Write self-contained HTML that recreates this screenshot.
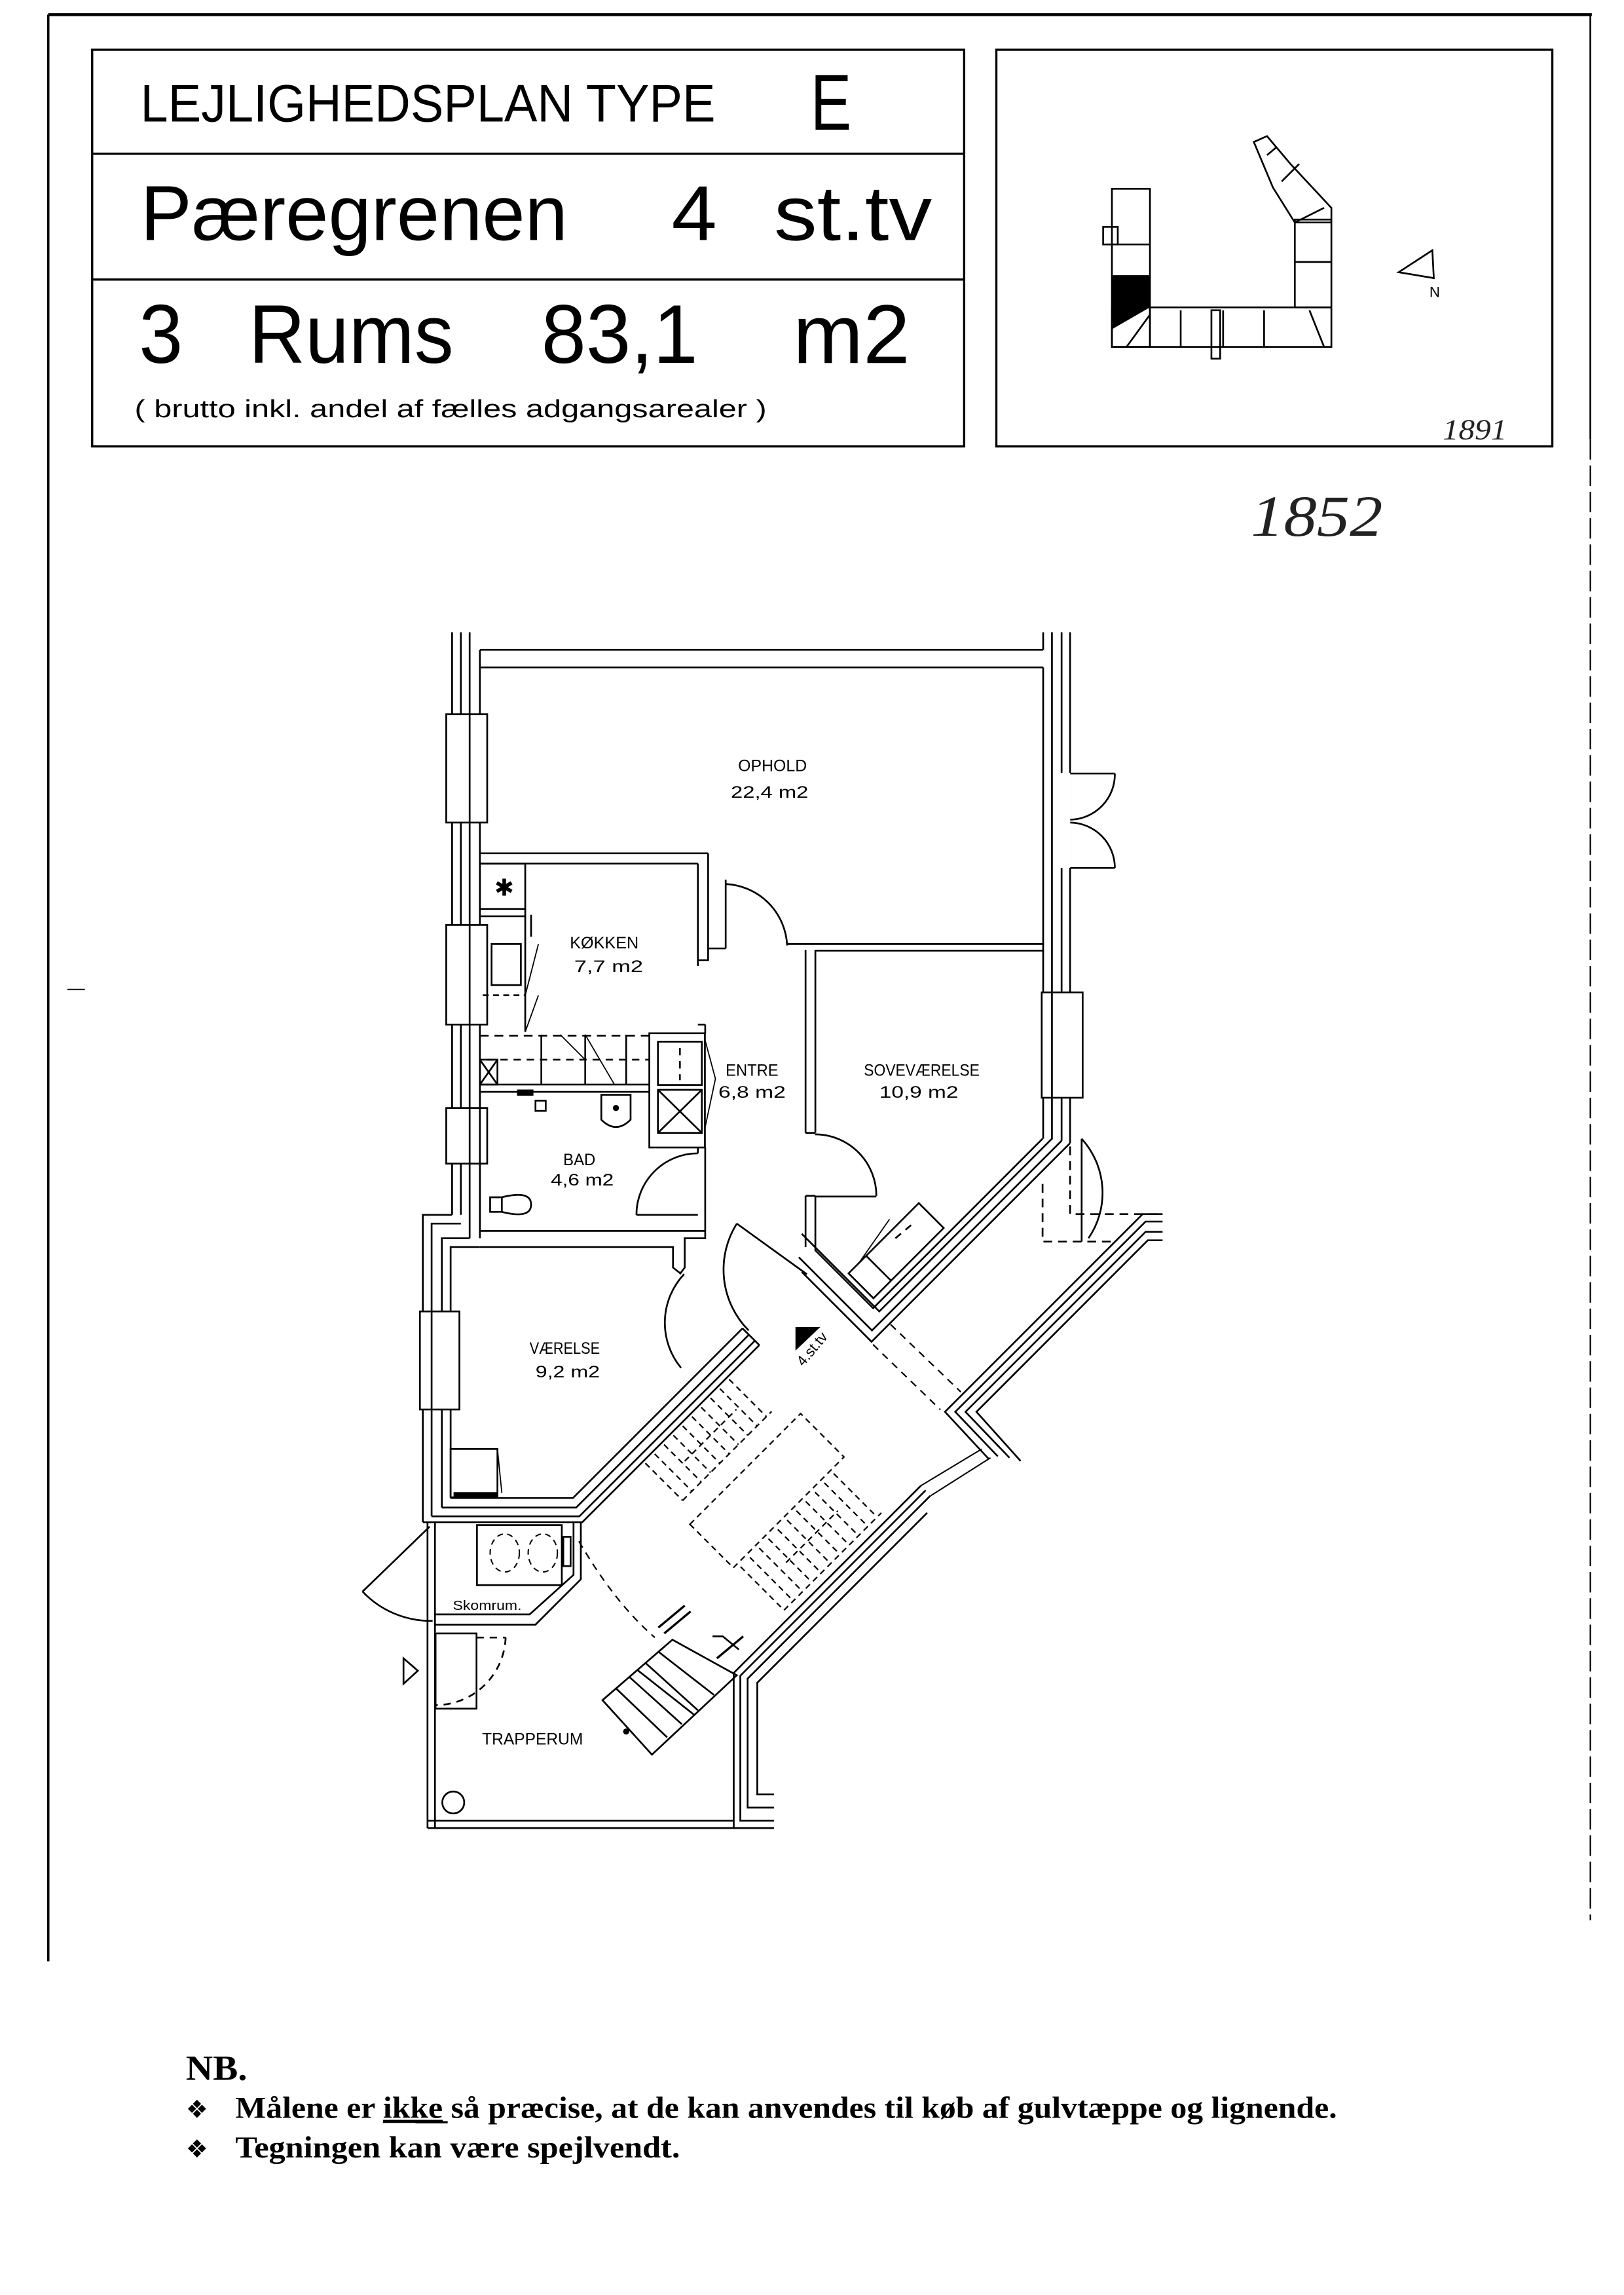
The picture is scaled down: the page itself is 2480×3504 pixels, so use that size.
<!DOCTYPE html>
<html><head><meta charset="utf-8"><style>
html,body{margin:0;padding:0;background:#fff;}
svg{display:block;}
</style></head><body>
<svg width="2480" height="3504" viewBox="0 0 1110 1568" preserveAspectRatio="none" xmlns="http://www.w3.org/2000/svg">
<rect width="1110" height="1568" fill="#fff"/>
<!-- page border -->
<g stroke="#000" fill="none">
<line x1="33" y1="10" x2="1088" y2="10" stroke-width="2"/>
<line x1="33" y1="10" x2="33" y2="1340" stroke-width="1.6"/>
<line x1="1087" y1="10" x2="1087" y2="300" stroke-width="1.2"/>
<line x1="1087" y1="300" x2="1087" y2="1312" stroke-width="1" stroke-dasharray="14 4"/>
<line x1="46" y1="676" x2="58" y2="676" stroke-width="0.8"/>
</g>
<!-- title block -->
<g stroke="#000" fill="none" stroke-width="1.5">
<rect x="63" y="34" width="596" height="271"/>
<line x1="63" y1="105" x2="659" y2="105"/>
<line x1="63" y1="191" x2="659" y2="191"/>
<rect x="681" y="34" width="380" height="271"/>
</g>
<g font-family="Liberation Sans, sans-serif" fill="#000">
<text x="96" y="83" font-size="36" textLength="393" lengthAdjust="spacingAndGlyphs">LEJLIGHEDSPLAN TYPE</text>
<text x="554" y="88.5" font-size="54" textLength="28" lengthAdjust="spacingAndGlyphs">E</text>
<text x="96" y="164" font-size="53" textLength="292" lengthAdjust="spacingAndGlyphs">Pæregrenen</text>
<text x="459" y="164" font-size="53" textLength="31" lengthAdjust="spacingAndGlyphs">4</text>
<text x="529" y="164" font-size="53" textLength="108" lengthAdjust="spacingAndGlyphs">st.tv</text>
<text x="95" y="248" font-size="57" textLength="30" lengthAdjust="spacingAndGlyphs">3</text>
<text x="170" y="248" font-size="57" textLength="140" lengthAdjust="spacingAndGlyphs">Rums</text>
<text x="370" y="248" font-size="57" textLength="107" lengthAdjust="spacingAndGlyphs">83,1</text>
<text x="542" y="248" font-size="57" textLength="80" lengthAdjust="spacingAndGlyphs">m2</text>
<text x="92" y="285" font-size="17" textLength="432" lengthAdjust="spacingAndGlyphs">( brutto inkl. andel af fælles adgangsarealer )</text>
</g>
<!-- key plan -->
<g stroke="#000" fill="none" stroke-width="1.2">
<rect x="760" y="129" width="26" height="108"/>
<rect x="754" y="155" width="10" height="12"/>
<line x1="760" y1="167" x2="786" y2="167"/>
<rect x="760" y="210" width="150" height="27"/>
<line x1="786" y1="210" x2="786" y2="237"/>
<line x1="770" y1="237" x2="786" y2="215"/>
<line x1="807" y1="212" x2="807" y2="237"/>
<line x1="836" y1="212" x2="836" y2="237"/>
<line x1="864" y1="212" x2="864" y2="237"/>
<line x1="895" y1="212" x2="905" y2="237"/>
<rect x="828" y="212" width="6" height="33"/>
<rect x="885" y="150" width="25" height="60"/>
<line x1="885" y1="179" x2="910" y2="179"/>
<polygon points="857,97 866,93 882,112 910,142 910,152 885,152 870,128"/>
<line x1="866" y1="106" x2="872" y2="101"/>
<line x1="876" y1="124" x2="888" y2="112"/>
<line x1="885" y1="152" x2="905" y2="142"/>
<polygon points="956,186 980,190 979,171"/>
</g>
<polygon points="760,188 786,188 786,210 760,225" fill="#000"/>
<text x="977" y="203" font-family="Liberation Sans, sans-serif" font-size="10" fill="#000">N</text>
<text x="986" y="300" font-family="Liberation Serif, serif" font-style="italic" font-size="20" fill="#222" textLength="44" lengthAdjust="spacingAndGlyphs">1891</text>
<text x="855" y="366" font-family="Liberation Serif, serif" font-style="italic" font-size="40" fill="#222" textLength="90" lengthAdjust="spacingAndGlyphs">1852</text>

<!-- FLOOR PLAN -->
<g stroke="#000" fill="none" stroke-width="1.2" stroke-linejoin="miter">
<!-- left wall upper -->
<line x1="309" y1="432" x2="309" y2="830"/>
<line x1="315" y1="432" x2="315" y2="830"/>
<line x1="321" y1="432" x2="321" y2="846"/>
<line x1="328" y1="444" x2="328" y2="846"/>
<!-- step out -->
<polyline points="309,830 289,830 289,1040"/>
<polyline points="315,836 295,836 295,1036"/>
<polyline points="321,846 302,846 302,1030"/>
<polyline points="328,852 308,852 308,1023"/>
<!-- top wall -->
<line x1="328" y1="444" x2="713" y2="444"/>
<line x1="328" y1="456" x2="713" y2="456"/>
<!-- right wall -->
<line x1="713" y1="432" x2="713" y2="444"/>
<line x1="713" y1="456" x2="713" y2="778"/>
<line x1="719" y1="432" x2="719" y2="778.5"/>
<line x1="725.6" y1="432" x2="725.6" y2="779.4"/>
<line x1="731.4" y1="432" x2="731.4" y2="781"/>
<!-- V walls soveværelse bottom -->
<polyline points="712.6,778 596.8,893.8 557.3,854.3 557.3,817"/>
<polyline points="719,778 601,896 548,843"/>
<polyline points="725.6,779.4 596,909 546,859"/>
<polyline points="731.4,781 595.7,916.7 548,869"/>
<!-- soveværelse left wall -->
<line x1="550.6" y1="649" x2="550.6" y2="774"/>
<line x1="557.3" y1="649" x2="557.3" y2="774"/>
<line x1="550.6" y1="774" x2="557.3" y2="774"/>
<line x1="550.6" y1="817" x2="550.6" y2="852"/>
<line x1="550.6" y1="817" x2="557.3" y2="817"/>
<!-- ophold/soveværelse wall -->
<line x1="538" y1="645" x2="713" y2="645"/>
<line x1="557.3" y1="649.5" x2="713" y2="649.5"/>
<!-- kitchen top wall -->
<line x1="328" y1="583" x2="484" y2="583"/>
<line x1="328" y1="590" x2="477" y2="590"/>
<polyline points="484,583 484,656 477,656 477,590"/>
<line x1="477" y1="656" x2="477" y2="660"/>
<!-- ophold door -->
<line x1="496" y1="601" x2="496" y2="648"/>
<path d="M496,604 A44,44 0 0 1 538,646"/>
<line x1="484" y1="648" x2="496" y2="648"/>
<!-- soveværelse door -->
<line x1="557" y1="817.5" x2="599" y2="817.5"/>
<path d="M557,775 A42,42 0 0 1 599,817"/>
<!-- balcony doors right -->
<rect x="719" y="528" width="13" height="65" fill="#fff" stroke="none"/>
<line x1="719" y1="528" x2="719" y2="593"/>
<line x1="731.5" y1="528.5" x2="762" y2="528.5"/>
<path d="M762,528.5 A31,31 0 0 1 731.5,560"/>
<line x1="731.5" y1="593" x2="762" y2="593"/>
<path d="M762,593 A31,31 0 0 0 731.5,562"/>
<!-- windows -->
<rect x="305" y="488" width="28" height="74" fill="#fff"/>
<line x1="321" y1="488" x2="321" y2="562"/>
<rect x="305" y="632" width="28" height="68" fill="#fff"/>
<line x1="321" y1="632" x2="321" y2="700"/>
<rect x="305" y="757" width="28" height="38" fill="#fff"/>
<line x1="321" y1="757" x2="321" y2="795"/>
<rect x="712" y="678" width="28" height="72" fill="#fff"/>
<line x1="719" y1="678" x2="719" y2="750"/>
<rect x="287" y="896" width="27" height="67" fill="#fff"/>
<line x1="295" y1="896" x2="295" y2="963"/>
<!-- kitchen fittings -->
<rect x="328" y="590" width="31" height="31"/>
<text x="338" y="612" font-size="16" stroke="none" fill="#000" font-family="DejaVu Sans, sans-serif">✱</text>
<line x1="328" y1="626" x2="359" y2="626"/>
<line x1="359" y1="621" x2="359" y2="705"/>
<line x1="363" y1="625" x2="363" y2="640"/>
<rect x="336" y="645" width="20" height="28"/>
<line x1="330" y1="680" x2="359" y2="680" stroke-dasharray="4 3"/>
<line x1="359" y1="680" x2="368" y2="645" stroke-width="0.8"/>
<line x1="359" y1="705" x2="368" y2="680" stroke-width="0.8"/>
<!-- kitchen lower counter -->
<line x1="328" y1="707.6" x2="444" y2="707.6" stroke-dasharray="6 4"/>
<line x1="328" y1="741" x2="444" y2="741"/>
<line x1="328" y1="746" x2="444" y2="746"/>
<line x1="333" y1="724" x2="444" y2="724" stroke-dasharray="5 4"/>
<rect x="328" y="724" width="12" height="17"/>
<line x1="328" y1="724" x2="340" y2="741"/><line x1="340" y1="724" x2="328" y2="741"/>
<line x1="370" y1="707" x2="370" y2="741"/>
<line x1="400" y1="707" x2="400" y2="741"/>
<line x1="383" y1="707" x2="400" y2="724" stroke-width="0.8"/>
<line x1="400" y1="707" x2="420" y2="741" stroke-width="0.8"/>
<line x1="428" y1="707" x2="428" y2="741"/>
<!-- entre cabinet -->
<rect x="443.8" y="706" width="38" height="78"/>
<rect x="449.7" y="711.7" width="30" height="29.6"/>
<line x1="464.7" y1="716" x2="464.7" y2="738" stroke-dasharray="5 4"/>
<rect x="449.7" y="744.6" width="30" height="29.4"/>
<line x1="449.7" y1="744.6" x2="479.7" y2="774"/><line x1="479.7" y1="744.6" x2="449.7" y2="774"/>
<line x1="477" y1="700" x2="482" y2="700"/>
<line x1="482" y1="700" x2="482" y2="706"/>
<line x1="482" y1="711" x2="489" y2="737" stroke-width="0.8"/>
<line x1="482" y1="770" x2="489" y2="737" stroke-width="0.8"/>
<!-- bad -->
<line x1="328" y1="746" x2="328" y2="841"/>
<rect x="366" y="752" width="7" height="7"/>
<rect x="354" y="745" width="10" height="3" fill="#000"/>
<path d="M411,748 L431,748 L431,765 Q421,775 411,765 Z"/>
<circle cx="421" cy="757" r="1.5" fill="#000"/>
<path d="M335,818 L343,818 Q363,813 363,823 Q363,833 343,828 L335,828 Z"/>
<line x1="343" y1="818" x2="343" y2="828"/>
<line x1="477" y1="784" x2="477" y2="788"/>
<line x1="482" y1="784" x2="482" y2="841"/>
<line x1="435" y1="830" x2="477" y2="830"/>
<path d="M435,830 A42,42 0 0 1 477,788"/>
<line x1="328" y1="841" x2="482" y2="841"/>
<polyline points="328,852 460,852 460,866 465,870 468,866 468,846 482,846 482,841"/>
<!-- værelse door -->
<path d="M467.6,870.5 A48.5,48.5 0 0 0 465.5,934.6"/>
<!-- entrance door -->
<line x1="551.5" y1="870.6" x2="503.6" y2="836"/>
<path d="M503.6,836 A59,59 0 0 0 511.7,909"/>
<!-- værelse bottom & diagonal -->
<polyline points="308,1023.5 391.6,1023.5 507.5,907.6"/>
<polyline points="302,1030 393.8,1030 511.9,911.9"/>
<polyline points="295,1036 396,1036 516,916"/>
<polyline points="289,1040 398,1040 519,919"/>
<line x1="507.5" y1="907.6" x2="519" y2="919"/>
<rect x="308" y="990" width="32" height="33"/>
<line x1="310" y1="1021" x2="340" y2="1021" stroke-width="3"/>
<line x1="340" y1="990" x2="343" y2="1020" stroke-width="0.8"/>
<!-- skomrum -->
<polyline points="392,1040 392,1076 362,1103 297,1103"/>
<polyline points="397,1040 397,1079 366,1110 297,1110"/>
<rect x="326" y="1042" width="58" height="41"/>
<ellipse cx="345" cy="1061" rx="10" ry="13" stroke-dasharray="4 3" stroke-width="0.9"/>
<ellipse cx="371" cy="1061" rx="10" ry="13" stroke-dasharray="4 3" stroke-width="0.9"/>
<rect x="385" y="1050" width="5" height="20"/>
<!-- trapperum left wall & door -->
<line x1="292.2" y1="1040" x2="292.2" y2="1249"/>
<line x1="297.3" y1="1040" x2="297.3" y2="1249"/>
<line x1="293.7" y1="1043" x2="247.8" y2="1087.4"/>
<path d="M247.8,1087.4 A64,64 0 0 0 295.7,1107.4"/>
<rect x="297.7" y="1116" width="28" height="51.4"/>
<path d="M345.6,1118.8 A48,48 0 0 1 297.7,1165" stroke-dasharray="5 4"/>
<line x1="325.7" y1="1118.8" x2="345.6" y2="1118.8" stroke-dasharray="5 4"/>
<polygon points="275.8,1133 285.6,1141.5 275.8,1150.4"/>
<circle cx="309.8" cy="1231.5" r="7.5"/>
<line x1="292.2" y1="1244" x2="501.5" y2="1244"/>
<line x1="292.2" y1="1249" x2="501.5" y2="1249"/>
<!-- lower-right stair wall -->
<polyline points="529,1226 517.6,1226 517.6,1149.7 633.7,1033.6"/>
<polyline points="529,1235 511,1235 511,1146.9 635.8,1022"/>
<polyline points="529,1244 506,1244 506,1144.9 632.7,1018.2"/>
<polyline points="529,1249 501.5,1249 501.5,1143 629.5,1015"/>
<line x1="629.5" y1="1015" x2="671" y2="990" stroke-width="0.9"/>
<line x1="636" y1="1022" x2="677" y2="996" stroke-width="0.9"/>
<!-- upper-right stair wall with jog -->
<polyline points="794.6,829.5 781,829.5 645.9,964.6 676,997"/>
<polyline points="794.6,834.6 783,834.6 652.9,964.6 682,995"/>
<polyline points="794.6,841.6 783,841.6 659.9,964.6 690,996"/>
<polyline points="794.6,847.4 784.5,847.4 667.4,964.6 697.6,998.2"/>
<!-- balcony dashed -->
<g stroke-dasharray="6 4">
<polyline points="712.6,808.9 712.6,848.3 760.5,848.3"/>
<polyline points="731.4,783.3 731.4,829.5 794.6,829.5"/>
</g>
<line x1="739.3" y1="848.3" x2="739.3" y2="778"/>
<path d="M739.3,778 A55,55 0 0 1 744,846"/>
<!-- soveværelse wardrobe -->
<polygon points="580,870 628,822 645,839 597,887"/>
<line x1="592" y1="858" x2="609" y2="875"/>
<line x1="612" y1="846" x2="624" y2="836" stroke-dasharray="5 4"/>
<line x1="587" y1="863" x2="608" y2="833" stroke-width="0.8"/>
<!-- 4.st.tv -->
<polygon points="543.7,906.6 560.7,906.6 543.7,922.8" fill="#000" stroke="none"/>
<!-- dashed stair lines -->
<g stroke-dasharray="5 4" stroke-width="1">
<line x1="596.7" y1="918.6" x2="642.7" y2="963.1"/>
<line x1="608.7" y1="904.9" x2="656.7" y2="951"/>
</g>
<g transform="translate(369,1069) rotate(-45)" stroke-dasharray="4 3" stroke-width="1">
<line x1="100" y1="38" x2="186" y2="38"/>
<line x1="100" y1="2" x2="100" y2="38"/><line x1="109" y1="2" x2="109" y2="38"/><line x1="118" y1="2" x2="118" y2="38"/><line x1="127" y1="2" x2="127" y2="38"/><line x1="136" y1="2" x2="136" y2="38"/><line x1="145" y1="2" x2="145" y2="38"/><line x1="154" y1="2" x2="154" y2="38"/><line x1="163" y1="2" x2="163" y2="38"/><line x1="172" y1="2" x2="172" y2="38"/><line x1="181" y1="2" x2="181" y2="38"/>
<rect x="92" y="53" width="107" height="42"/>
<line x1="96" y1="140" x2="190" y2="140"/>
<line x1="96" y1="98" x2="96" y2="140"/><line x1="105" y1="98" x2="105" y2="140"/><line x1="114" y1="98" x2="114" y2="140"/><line x1="123" y1="98" x2="123" y2="140"/><line x1="132" y1="98" x2="132" y2="140"/><line x1="141" y1="98" x2="141" y2="140"/><line x1="150" y1="98" x2="150" y2="140"/><line x1="159" y1="98" x2="159" y2="140"/><line x1="168" y1="98" x2="168" y2="140"/><line x1="177" y1="98" x2="177" y2="140"/><line x1="186" y1="98" x2="186" y2="140"/>
<line x1="120" y1="20" x2="170" y2="20"/>
<line x1="120" y1="118" x2="170" y2="118"/>
</g>
<path d="M395.7,1053 Q420,1095 447.6,1118.8" stroke-dasharray="5 4" stroke-width="1"/>
<!-- solid stair bottom -->
<polygon points="411.8,1161.6 459.6,1120.3 503.6,1144.6 445.6,1198.8"/>
<line x1="435.7" y1="1141" x2="474.6" y2="1171.7"/>
<line x1="421" y1="1153.5" x2="456" y2="1187"/>
<line x1="430" y1="1145.6" x2="466" y2="1178"/>
<line x1="441" y1="1136" x2="477" y2="1168.5"/>
<line x1="450" y1="1128.5" x2="488" y2="1158"/>
<circle cx="428" cy="1183" r="1.5" fill="#000"/>
<line x1="450" y1="1112" x2="468" y2="1097" stroke-width="1.5"/>
<line x1="454" y1="1116" x2="472" y2="1101" stroke-width="1.5"/>
<line x1="490" y1="1133" x2="508" y2="1118" stroke-width="1.5"/>
<polyline points="487,1118 494,1118 505,1127"/>
</g>
<!-- room labels -->
<g font-family="Liberation Sans, sans-serif" font-size="11" fill="#000" text-anchor="middle">
<text x="528" y="527" textLength="47" lengthAdjust="spacingAndGlyphs">OPHOLD</text>
<text x="526" y="545" textLength="53" lengthAdjust="spacingAndGlyphs">22,4  m2</text>
<text x="413" y="648" textLength="47" lengthAdjust="spacingAndGlyphs">KØKKEN</text>
<text x="416" y="664" textLength="47" lengthAdjust="spacingAndGlyphs">7,7  m2</text>
<text x="514" y="735" textLength="36" lengthAdjust="spacingAndGlyphs">ENTRE</text>
<text x="514" y="750" textLength="46" lengthAdjust="spacingAndGlyphs">6,8  m2</text>
<text x="630" y="735" textLength="79" lengthAdjust="spacingAndGlyphs">SOVEVÆRELSE</text>
<text x="628" y="750" textLength="54" lengthAdjust="spacingAndGlyphs">10,9  m2</text>
<text x="396" y="796" textLength="22" lengthAdjust="spacingAndGlyphs">BAD</text>
<text x="398" y="810" textLength="43" lengthAdjust="spacingAndGlyphs">4,6  m2</text>
<text x="386" y="925" textLength="48" lengthAdjust="spacingAndGlyphs">VÆRELSE</text>
<text x="388" y="941" textLength="44" lengthAdjust="spacingAndGlyphs">9,2  m2</text>
<text x="333" y="1100" font-size="9" textLength="47" lengthAdjust="spacingAndGlyphs">Skomrum.</text>
<text x="364" y="1192" textLength="69" lengthAdjust="spacingAndGlyphs">TRAPPERUM</text>
</g>
<text transform="translate(549,934) rotate(-50)" font-family="Liberation Sans, sans-serif" font-size="10" fill="#000">4.st.tv</text>
<!-- NB -->
<g font-family="Liberation Serif, serif" font-weight="bold" fill="#000">
<text x="127" y="1421" font-size="24" textLength="42" lengthAdjust="spacingAndGlyphs">NB.</text>
<text x="127" y="1447" font-size="17" font-family="DejaVu Sans, sans-serif">❖</text>
<text x="160.8" y="1447" font-size="21" textLength="753" lengthAdjust="spacingAndGlyphs">Målene er <tspan text-decoration="underline">ikke</tspan> så præcise, at de kan anvendes til køb af gulvtæppe og lignende.</text>
<text x="127" y="1474" font-size="17" font-family="DejaVu Sans, sans-serif">❖</text>
<text x="160.8" y="1474" font-size="21" textLength="304" lengthAdjust="spacingAndGlyphs">Tegningen kan være spejlvendt.</text>
</g>
<line x1="284" y1="1450" x2="306" y2="1450" stroke="#000" stroke-width="1.5"/>
</svg>
</body></html>
